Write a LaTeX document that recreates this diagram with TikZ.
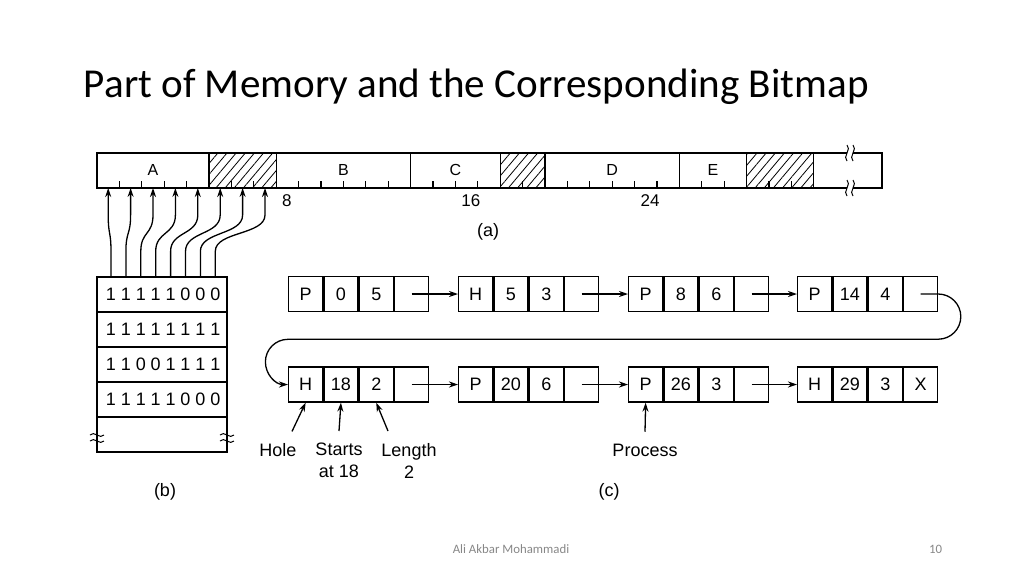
\documentclass[tikz,border=0pt]{standalone}
\usepackage{fontspec}
\setmainfont{Liberation Sans}
\newfontfamily\slidefont{Carlito}
\usetikzlibrary{calc, arrows.meta, positioning, patterns.meta}

\begin{document}
\begin{tikzpicture}[x=1pt, y=-1pt, line width=1.3pt,
  cell/.style={draw, minimum width=34pt, minimum height=35pt, inner sep=0pt,
               font=\fontsize{18}{20}\selectfont},
  bitrow/.style={draw, minimum width=130pt, minimum height=35pt, inner sep=0pt},
  link/.style={-{Stealth[length=9pt,width=6pt]}},
  hatch/.style={pattern={Lines[angle=50,distance=7pt,line width=0.8pt]}},
  lbl/.style={font=\fontsize{18}{22}\selectfont, align=center}]
  \useasboundingbox (0,0) rectangle (1024,576);

  % Title and footer
  \node[anchor=base west, font=\slidefont\fontsize{41.1}{48}\selectfont] (title)
    at (80,97) {Part of Memory and the Corresponding Bitmap};
  \node[anchor=base, font=\slidefont\fontsize{12.8}{14}\selectfont, text=black!47] (author)
    at (511,553) {Ali Akbar Mohammadi};
  \node[anchor=base east, font=\slidefont\fontsize{12.8}{14}\selectfont, text=black!47] (page)
    at (946,553) {10};

  % (a) memory bar
  \foreach \a/\b in {5/8, 18/20, 29/32}
    \fill[hatch] (97+22.4*\a,153) rectangle (97+22.4*\b,188);
  \foreach \a in {1,...,31}
    \draw (97+22.4*\a,188) -- ++(0,-7);
  \foreach \a in {5,8,14,18,20,26,29,32}
    \draw (97+22.4*\a,153) -- (97+22.4*\a,188);
  \draw[line width=1.6pt] (97,153) rectangle (882,188);
  % break marks
  \foreach \y in {153,188} {
    \fill[white] (847,\y-2) rectangle (853,\y+2);
    \foreach \x in {847,853}
      \draw[line width=1pt] (\x,\y-8) .. controls (\x+5,\y-4) and (\x-5,\y+4) .. (\x,\y+8);
  }
  \foreach \a/\b/\name in {0/5/A, 8/14/B, 14/18/C, 20/26/D, 26/29/E}
    \node[anchor=base, font=\fontsize{16}{18}\selectfont] (seg\name)
      at ({97+22.4*(\a+\b)/2},175) {\name};
  \foreach \a in {8,16,24}
    \node[anchor=west, font=\fontsize{17}{19}\selectfont] (num\a)
      at (99+22.4*\a,201) {\a};
  \node[font=\fontsize{18}{20}\selectfont] (capa) at (488,232) {(a)};

  % (b) bitmap
  \foreach \r/\bits in {1/{1,1,1,1,1,0,0,0}, 2/{1,1,1,1,1,1,1,1},
                        3/{1,1,0,0,1,1,1,1}, 4/{1,1,1,1,1,0,0,0}} {
    \node[bitrow] (row\r) at (162,259.5+35*\r) {};
    \foreach \b [count=\i from 0] in \bits
      \node[font=\fontsize{18}{20}\selectfont] (bit\r-\i) at (111+14.9*\i,259.5+35*\r) {\b};
  }
  \node[bitrow] (row5) at (162,434.5) {};
  \foreach \x in {97,227}
    \foreach \y in {435,441}
      \draw[line width=1pt] (\x-7,\y) .. controls (\x-3,\y-5) and (\x+3,\y+5) .. (\x+7,\y);
  \node[font=\fontsize{18}{20}\selectfont] (capb) at (165,492) {(b)};

  % bits point at the allocation units
  \foreach \i in {0,...,7} {
    \coordinate (m\i) at (108.2+22.4*\i,188);
    \draw[link] (bit1-\i |- row1.north) -- ++(0,-25)
      .. controls +(0,-20) and ($(m\i)+(0,47)$) .. ($(m\i)+(0,27)$) -- (m\i);
  }

  % (c) list of segments
  \foreach \n/\x/\y/\t/\s/\l/\e in {a/288/294/P/0/5/{}, b/458/294/H/5/3/{},
      c/628/294/P/8/6/{}, d/797/294/P/14/4/{}, e/288/384.5/H/18/2/{},
      f/458/384.5/P/20/6/{}, g/628/384.5/P/26/3/{}, h/797/384.5/H/29/3/X} {
    \node[cell, anchor=west] (\n1) at (\x,\y) {\t};
    \node[cell, right=0pt of \n1] (\n2) {\s};
    \node[cell, right=0pt of \n2] (\n3) {\l};
    \node[cell, right=0pt of \n3] (\n4) {\e};
  }
  \foreach \p/\q in {a/b, b/c, c/d, e/f, f/g, g/h}
    \draw[link] (\p4.center) -- (\q1.west);
  % wrap round to the second row
  \draw[link] (d4.center) -- (d4.east)
    .. controls ($(d4.east)+(12.5,0)$) and ($(d4.east)+(22.6,10.1)$) .. ($(d4.east)+(22.6,22.6)$)
    .. controls ($(d4.east)+(22.6,35.1)$) and ($(d4.east)+(12.5,45.2)$) .. ($(d4.east)+(0,45.2)$)
    -- ($(e1.west)+(0,-45.2)$)
    .. controls ($(e1.west)+(-12.5,-45.2)$) and ($(e1.west)+(-22.6,-35.1)$) .. ($(e1.west)+(-22.6,-22.6)$)
    .. controls ($(e1.west)+(-22.6,-10.1)$) and ($(e1.west)+(-12.5,0)$) .. (e1.west);

  % Labels
  \node[lbl] (hole) at (278,450) {Hole};
  \node[lbl, anchor=north] (starts) at (339,439) {Starts\\at 18};
  \node[lbl, anchor=north] (length) at (409,439) {Length\\2};
  \node[lbl] (proc) at (645,450) {Process};
  \draw[link] ([shift={(14pt,8pt)}]hole.north) -- (e1.south);
  \draw[link] ([yshift=8pt]starts.north) -- (e2.south);
  \draw[link] ([shift={(-21pt,8pt)}]length.north) -- (e3.south);
  \draw[link] ([yshift=8pt]proc.north) -- (g1.south);
  \node[font=\fontsize{18}{20}\selectfont] (capc) at (609,492) {(c)};
\end{tikzpicture}
\end{document}
